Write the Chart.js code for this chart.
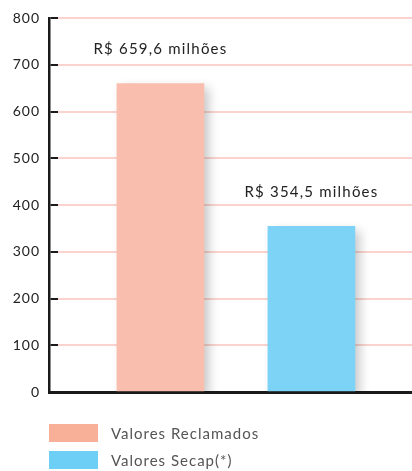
<!DOCTYPE html>
<html>
<head>
<meta charset="utf-8">
<script src="https://cdn.jsdelivr.net/npm/chart.js@4"></script>
<style>
  body { margin: 0; background: #fff; }
  #wrap { position: relative; width: 412px; height: 471px; }
  #legend { position: absolute; left: 49px; top: 424px; font-family: Lato, sans-serif; }
  .item { display: flex; align-items: center; height: 18px; margin-bottom: 9px; }
  .box { width: 49px; height: 18px; margin-right: 13px; }
  .txt { font-size: 15px; color: #555; letter-spacing: 1px; }
</style>
</head>
<body>
<div id="wrap">
  <canvas id="chart" width="412" height="471"></canvas>
  <div id="legend"></div>
</div>
<script>
const categories = ["Valores Reclamados", "Valores Secap(*)"];
const values = [659.6, 354.5];
const barColors = ["#f9bead", "#7cd3f5"];
const legendColors = ["#f8b099", "#6dcff6"];
const yTicks = [0, 100, 200, 300, 400, 500, 600, 700, 800];

const pink = "#fbd3ce";

// bar shadow + value labels above the bars
const barExtras = {
  id: "barExtras",
  beforeLayout(chart) { chart.ctx.letterSpacing = "1px"; },
  beforeDraw(chart) { chart.ctx.letterSpacing = "1px"; },
  beforeDatasetsDraw(chart) {
    const c = chart.ctx;
    c.save();
    c.shadowColor = "rgba(0,0,0,0.22)";
    c.shadowBlur = 10;
    c.shadowOffsetX = 5;
    c.shadowOffsetY = 5;
  },
  afterDatasetsDraw(chart) {
    const c = chart.ctx;
    c.restore();
    c.save();
    c.letterSpacing = "1.2px";
    c.font = "15px Lato";
    c.fillStyle = "#222";
    c.textAlign = "center";
    c.textBaseline = "middle";
    chart.data.datasets.forEach((ds, i) => {
      const bar = chart.getDatasetMeta(i).data[0];
      const txt = "R$ " + values[i].toFixed(1).replace(".", ",") + " milhões";
      c.fillText(txt, bar.x, bar.y - 34);
    });
    c.restore();
  }
};

const ctx = document.getElementById("chart").getContext("2d");

const chart = new Chart(ctx, {
  type: "bar",
  data: {
    datasets: categories.map((name, i) => ({
      label: name,
      data: [{ x: i + 1, y: values[i] }],
      backgroundColor: barColors[i],
      borderWidth: 0,
      barThickness: 87
    }))
  },
  options: {
    responsive: false,
    animation: false,
    layout: { padding: { top: 18, bottom: 79, left: 0, right: 0 } },
    plugins: {
      legend: { display: false },
      tooltip: { enabled: false }
    },
    datasets: { bar: { grouped: false } },
    scales: {
      x: {
        type: "linear",
        offset: false,
        min: 0.262,
        max: 2.666,
        afterFit(scale) { scale.height = 0; },
        ticks: { display: false },
        grid: { display: false },
        border: { display: true, color: "#1a1a1a", width: 3 }
      },
      y: {
        min: 0,
        max: 800,
        afterFit(scale) { scale.width = 49; },
        afterBuildTicks(scale) { scale.ticks = yTicks.map(v => ({ value: v })); },
        ticks: {
          padding: 9,
          color: "#222",
          font: { family: "Lato", size: 14 }
        },
        grid: {
          drawTicks: false,
          lineWidth: 2,
          color(c) {
            const area = c.chart.chartArea;
            if (!area) return pink;
            const g = c.chart.ctx.createLinearGradient(area.left, 0, area.right, 0);
            g.addColorStop(0, "#1a1a1a");
            g.addColorStop(0.024, "#1a1a1a");
            g.addColorStop(0.025, pink);
            g.addColorStop(1, pink);
            return g;
          }
        },
        border: { display: true, color: "#1a1a1a", width: 2.5 }
      }
    }
  },
  plugins: [barExtras]
});

const legend = document.getElementById("legend");
categories.forEach((name, i) => {
  const item = document.createElement("div");
  item.className = "item";
  item.innerHTML = `<span class="box" style="background:${legendColors[i]}"></span><span class="txt">${name}</span>`;
  legend.appendChild(item);
});
</script>
</body>
</html>
